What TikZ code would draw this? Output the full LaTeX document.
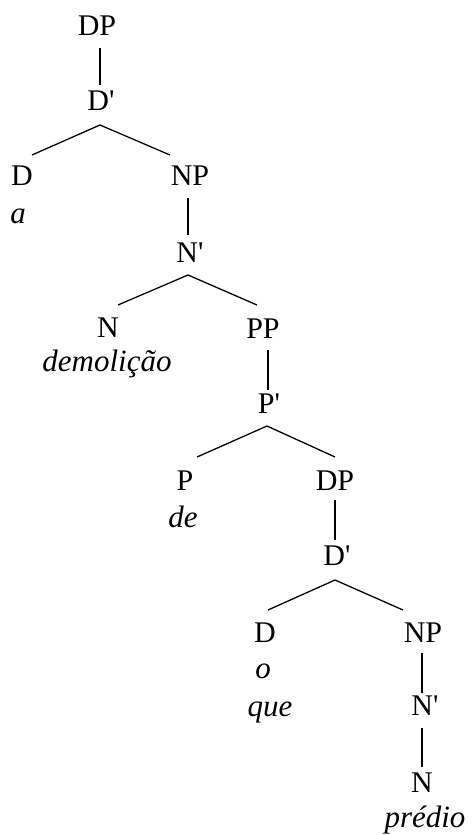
\documentclass[tikz,border=0pt]{standalone}
\usepackage{fontspec}
\setmainfont{Liberation Serif}
\newcommand{\xbarmark}{\textquotesingle}
\begin{document}
\begin{tikzpicture}[x=1pt,y=-1pt,
  lbl/.style={anchor=base,inner sep=0pt,font=\fontsize{30}{36}\selectfont},
  wd/.style={anchor=base,inner sep=0pt,font=\fontsize{31}{36}\selectfont\itshape},
  edge/.style={line width=1.3pt}]
\useasboundingbox (0,0) rectangle (473,835);
% labels
\node[lbl] (DPa) at (97,35) {DP};
\node[lbl] (Dba) at (101,110) {D\xbarmark};
\node[lbl] (Da) at (22,185) {D};
\node[wd] (wa) at (18,223) {a};
\node[lbl] (NPa) at (190,185) {NP};
\node[lbl] (Nba) at (190,262) {N\xbarmark};
\node[lbl] (Na) at (108,337) {N};
\node[wd] (wdem) at (107,371) {demolição};
\node[lbl] (PP) at (263,338) {PP};
\node[lbl] (Pb) at (269,413) {P\xbarmark};
\node[lbl] (P) at (185,490) {P};
\node[wd] (wde) at (183,527) {de};
\node[lbl] (DPb) at (335,490) {DP};
\node[lbl] (Dbb) at (337,565) {D\xbarmark};
\node[lbl] (Db) at (265,642) {D};
\node[wd] (wo) at (263,678) {o};
\node[wd] (wque) at (270,716) {que};
\node[lbl] (NPb) at (423,642) {NP};
\node[lbl] (Nbb) at (425,715) {N\xbarmark};
\node[lbl] (Nb) at (422,792) {N};
\node[wd] (wpred) at (425,827) {prédio};
% connector end points
\coordinate (c1a) at (100,48);  \coordinate (c1b) at (100,85);
\coordinate (c2a) at (100,125); \coordinate (c2l) at (32,155); \coordinate (c2r) at (170,155);
\coordinate (c3a) at (188,198); \coordinate (c3b) at (188,235);
\coordinate (c4a) at (188,275); \coordinate (c4l) at (118,305); \coordinate (c4r) at (257,305);
\coordinate (c5a) at (268,350); \coordinate (c5b) at (268,390);
\coordinate (c6a) at (267,426); \coordinate (c6l) at (197,457); \coordinate (c6r) at (335,457);
\coordinate (c7a) at (335,500); \coordinate (c7b) at (335,540);
\coordinate (c8a) at (335,580); \coordinate (c8l) at (268,610); \coordinate (c8r) at (403,610);
\coordinate (c9a) at (422,653); \coordinate (c9b) at (422,693);
\coordinate (c10a) at (422,728); \coordinate (c10b) at (422,767);
% connectors
\draw[edge] (c1a) -- (c1b);
\draw[edge] (c2l) -- (c2a) -- (c2r);
\draw[edge] (c3a) -- (c3b);
\draw[edge] (c4l) -- (c4a) -- (c4r);
\draw[edge] (c5a) -- (c5b);
\draw[edge] (c6l) -- (c6a) -- (c6r);
\draw[edge] (c7a) -- (c7b);
\draw[edge] (c8l) -- (c8a) -- (c8r);
\draw[edge] (c9a) -- (c9b);
\draw[edge] (c10a) -- (c10b);
\end{tikzpicture}
\end{document}
